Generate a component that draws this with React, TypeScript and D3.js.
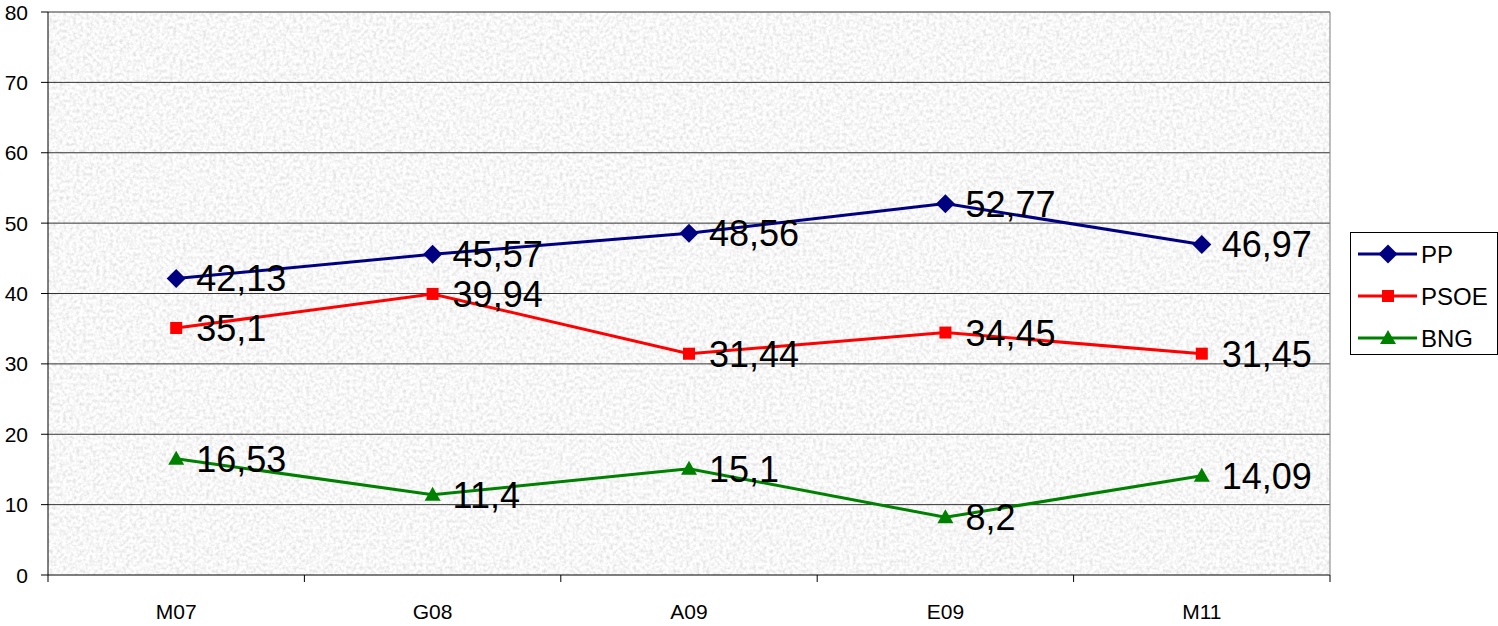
import React from "react";
import * as d3 from "d3";

const categories = ["M07", "G08", "A09", "E09", "M11"];
const ppValues = [42.13, 45.57, 48.56, 52.77, 46.97];
const psoeValues = [35.1, 39.94, 31.44, 34.45, 31.45];
const bngValues = [16.53, 11.4, 15.1, 8.2, 14.09];
const yTicks = [0, 10, 20, 30, 40, 50, 60, 70, 80];

const seriesList = [
  { name: "PP", values: ppValues, color: "#000080", marker: "diamond" },
  { name: "PSOE", values: psoeValues, color: "#ff0000", marker: "square" },
  { name: "BNG", values: bngValues, color: "#008000", marker: "triangle" },
];

const W = 1498;
const H = 626;
const left = 48;
const right = 1330;
const top = 12;
const bottom = 575;

function Marker({ type, x, y, color }: { type: string; x: number; y: number; color: string }) {
  if (type === "diamond") {
    const r = 9.5;
    return <path d={`M${x},${y - r}L${x + r},${y}L${x},${y + r}L${x - r},${y}Z`} fill={color} />;
  }
  if (type === "square") {
    const s = 12;
    return <rect x={x - s / 2} y={y - s / 2} width={s} height={s} fill={color} />;
  }
  const r = 8;
  return <path d={`M${x},${y - 8}L${x + r},${y + 6}L${x - r},${y + 6}Z`} fill={color} />;
}

export default function App() {
  const x = d3.scaleBand<string>().domain(categories).range([left, right]);
  const y = d3.scaleLinear().domain([0, 80]).range([bottom, top]);
  const cx = (c: string) => (x(c) as number) + x.bandwidth() / 2;
  const line = d3
    .line<number>()
    .x((_, i) => cx(categories[i]))
    .y((v) => y(v));
  const fmt = (v: number) => String(v).replace(".", ",");
  const font = "Arial, 'Liberation Sans', sans-serif";

  return (
    <svg width={W} height={H} style={{ position: "absolute", left: 0, top: 0, background: "#fff" }} fontFamily={font}>
      <defs>
        <filter id="tex" filterUnits="userSpaceOnUse" x={left} y={top} width={right - left} height={bottom - top}>
          <feTurbulence type="fractalNoise" baseFrequency="0.3" numOctaves={2} seed={5} />
          <feColorMatrix
            type="matrix"
            values="0.5 0 0 0 0.68  0.5 0 0 0 0.68  0.5 0 0 0 0.68  0 0 0 0 1"
          />
        </filter>
      </defs>
      <rect x={left} y={top} width={right - left} height={bottom - top} fill="#ececec" />
      <rect x={left} y={top} width={right - left} height={bottom - top} filter="url(#tex)" />
      {yTicks.map((t) => (
        <g key={t}>
          <line x1={left} x2={right} y1={y(t)} y2={y(t)} stroke={t === 0 ? "#000" : "#333"} strokeWidth={1} />
          <line x1={left - 7} x2={left} y1={y(t)} y2={y(t)} stroke="#000" />
          <text x={28} y={y(t)} dy="0.36em" textAnchor="end" fontSize={21}>
            {t}
          </text>
        </g>
      ))}
      <line x1={left} x2={left} y1={top} y2={bottom} stroke="#000" />
      <line x1={right} x2={right} y1={top} y2={bottom} stroke="#808080" />
      {categories.map((c, i) => (
        <g key={c}>
          <line x1={x(c) as number} x2={x(c) as number} y1={bottom} y2={bottom + 7} stroke="#000" />
          {i === categories.length - 1 && (
            <line x1={right} x2={right} y1={bottom} y2={bottom + 7} stroke="#000" />
          )}
          <text x={cx(c)} y={619} textAnchor="middle" fontSize={21}>
            {c}
          </text>
        </g>
      ))}
      {seriesList.map((s) => (
        <g key={s.name}>
          <path d={line(s.values) || ""} fill="none" stroke={s.color} strokeWidth={3} />
          {s.values.map((v, i) => (
            <Marker key={i} type={s.marker} x={cx(categories[i])} y={y(v)} color={s.color} />
          ))}
        </g>
      ))}
      {seriesList.map((s) =>
        s.values.map((v, i) => (
          <text key={s.name + i} x={cx(categories[i]) + 20} y={y(v)} dy="0.36em" fontSize={36} fill="#000">
            {fmt(v)}
          </text>
        ))
      )}
      <rect x={1350.5} y={232.5} width={147} height={122} fill="#fff" stroke="#000" strokeWidth={1} />
      {seriesList.map((s, i) => {
        const ly = 254 + i * 42;
        return (
          <g key={s.name}>
            <line x1={1358} x2={1417} y1={ly} y2={ly} stroke={s.color} strokeWidth={3} />
            <Marker type={s.marker} x={1388} y={ly} color={s.color} />
            <text x={1421} y={ly} dy="0.36em" fontSize={24}>
              {s.name}
            </text>
          </g>
        );
      })}
    </svg>
  );
}
